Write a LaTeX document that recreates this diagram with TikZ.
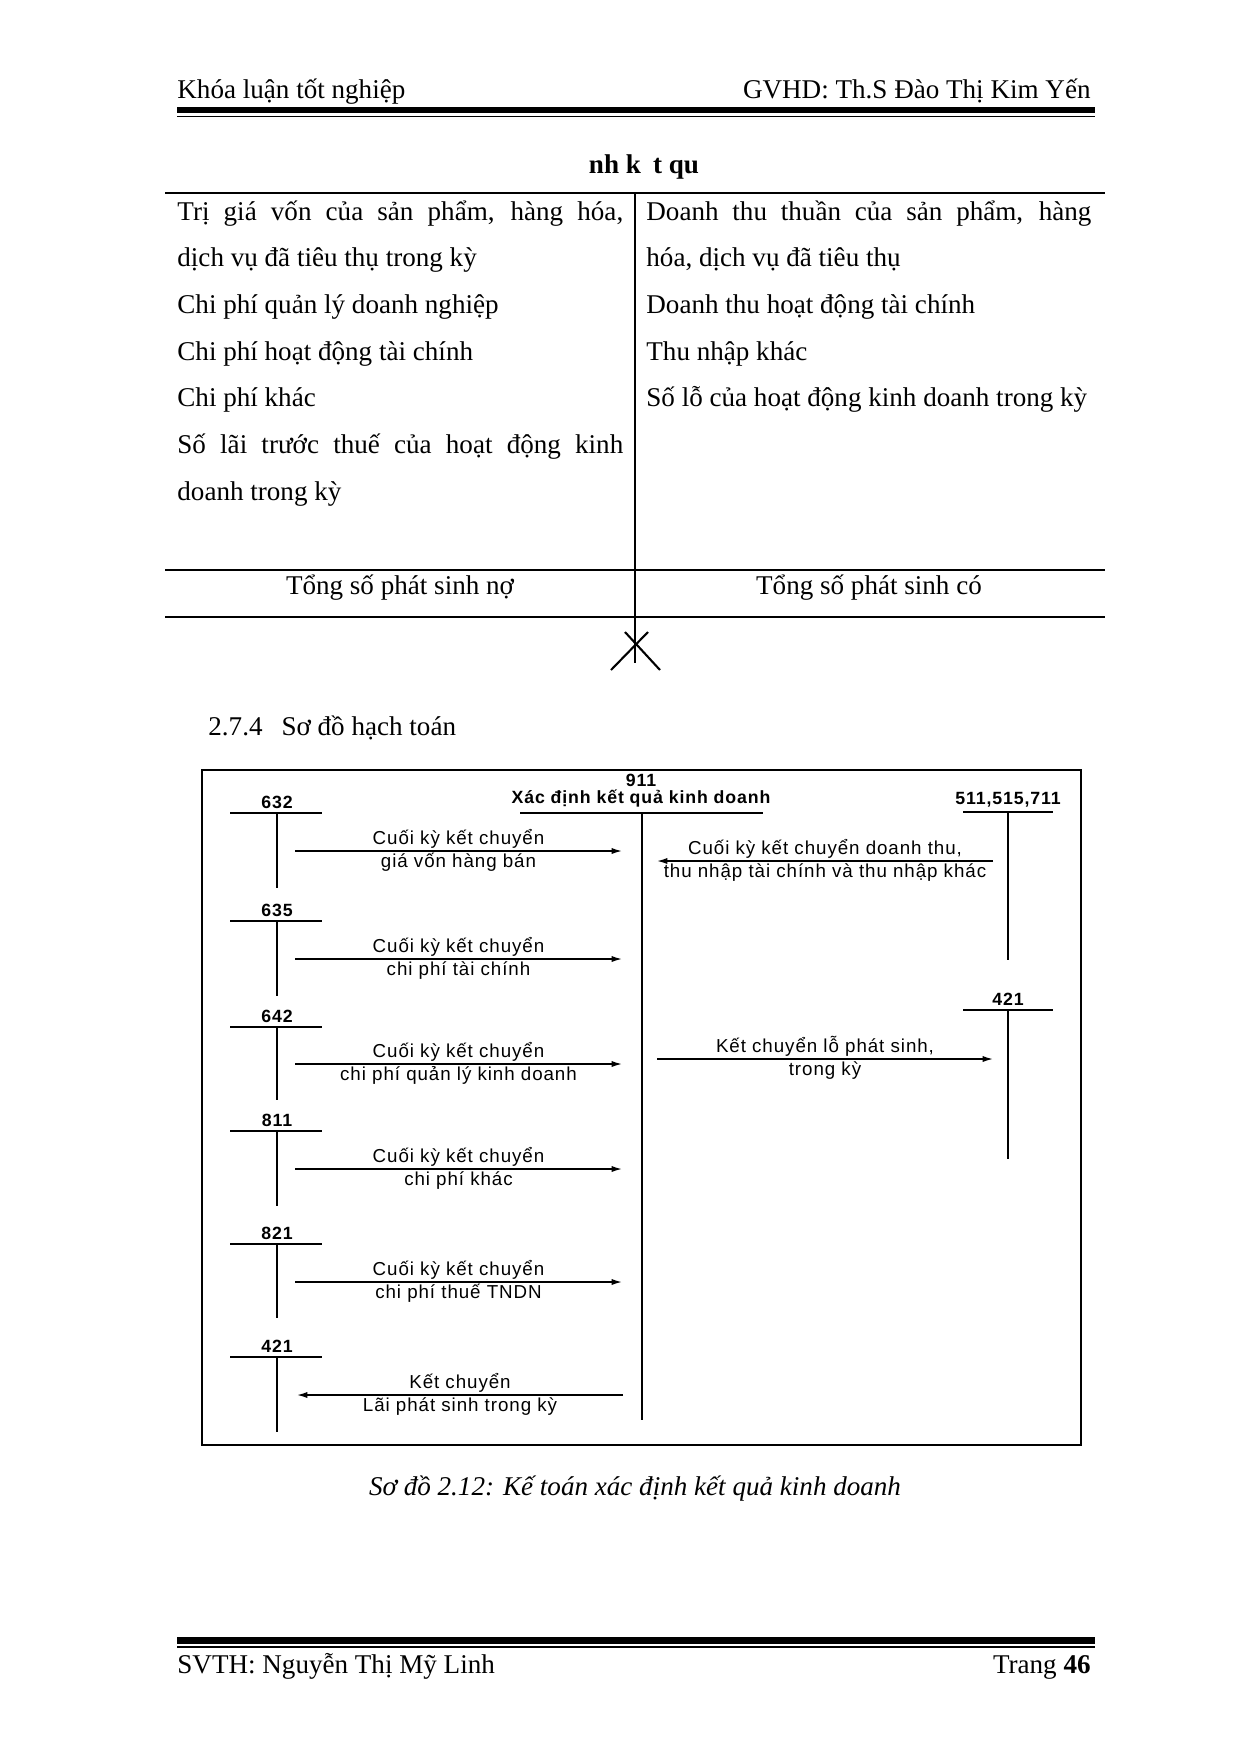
\documentclass[tikz,border=0pt]{standalone}
\usepackage{fontspec}
\setmainfont{Liberation Serif}
\newfontfamily\scanfont[LetterSpace=5]{Liberation Sans}
\usetikzlibrary{arrows.meta,positioning}

\begin{document}
\begin{tikzpicture}[x=0.48pt, y=-0.48pt,
    body/.style = {font=\fontsize{13}{15}\selectfont, inner sep=0pt},
    acct/.style = {font=\scanfont\bfseries\fontsize{8.5}{9}\selectfont, inner sep=0pt},
    note/.style = {font=\scanfont\fontsize{9}{10}\selectfont, inner sep=0.8pt},
    tline/.style = {line width=0.9pt},
    flow/.style = {-{Latex[length=5pt,width=3pt]}, line width=0.7pt}]
    \fill[white] (0,0) rectangle (1240,1754);
    \useasboundingbox (0,0) rectangle (1240,1754);

    % header and footer
    \node[body, anchor=base west] (hleft) at (177,98) {Khóa luận tốt nghiệp};
    \node[body, anchor=base east] (hright) at (1091,98) {GVHD: Th.S Đào Thị Kim Yến};
    \draw[line width=2.9pt] (177,110) -- (1095,110);
    \draw[line width=0.8pt] (177,116.5) -- (1095,116.5);
    \draw[line width=3.4pt] (177,1640.5) -- (1095,1640.5);
    \draw[line width=0.8pt] (177,1647) -- (1095,1647);
    \node[body, anchor=base west] (fleft) at (177,1673) {SVTH: Nguyễn Thị Mỹ Linh};
    \node[body, anchor=base east] (fright) at (1091,1673) {Trang \textbf{46}};

    % tai khoan chu T
    \node[body, anchor=base, font=\bfseries\fontsize{13}{15}\selectfont] (title) at (644,173) {nh k\hspace{0.45em}t qu};
    \draw[line width=1pt] (165,193) -- (1105,193);
    \draw[line width=1pt] (165,570) -- (1105,570);
    \draw[line width=1pt] (165,617) -- (1105,617);
    \draw[line width=1pt] (635,193) -- (635,663);
    \draw[line width=1pt] (625,632) -- (660,670);
    \draw[line width=1pt] (648,632) -- (611,670);

    \node[body, anchor=base west] (no1) at (177,220) {\makebox[214pt][s]{Trị giá vốn của sản phẩm, hàng hóa,}};
    \node[body, anchor=base west] (no2) at (177,266.7) {dịch vụ đã tiêu thụ trong kỳ};
    \node[body, anchor=base west] (no3) at (177,313.4) {Chi phí quản lý doanh nghiệp};
    \node[body, anchor=base west] (no4) at (177,360) {Chi phí hoạt động tài chính};
    \node[body, anchor=base west] (no5) at (177,406.8) {Chi phí khác};
    \node[body, anchor=base west] (no6) at (177,453.5) {\makebox[214pt][s]{Số lãi trước thuế của hoạt động kinh}};
    \node[body, anchor=base west] (no7) at (177,500) {doanh trong kỳ};

    \node[body, anchor=base west] (co1) at (646,220) {\makebox[213.6pt][s]{Doanh thu thuần của sản phẩm, hàng}};
    \node[body, anchor=base west] (co2) at (646,266.7) {hóa, dịch vụ đã tiêu thụ};
    \node[body, anchor=base west] (co3) at (646,313.4) {Doanh thu hoạt động tài chính};
    \node[body, anchor=base west] (co4) at (646,360) {Thu nhập khác};
    \node[body, anchor=base west] (co5) at (646,406.8) {Số lỗ của hoạt động kinh doanh trong kỳ};

    \node[body, anchor=base] (sumno) at (400,594) {Tổng số phát sinh nợ};
    \node[body, anchor=base] (sumco) at (869,594) {Tổng số phát sinh có};

    \node[body, anchor=base west] (sec) at (208,735) {2.7.4\hspace{0.7em}Sơ đồ hạch toán};

    % so do hach toan
    \draw[line width=1.4pt] (202,770) rectangle (1081,1445);

    \node[acct, anchor=south] (t911) at (641,808) {Xác định kết quả kinh doanh};
    \node[acct, above=1.2pt of t911] (n911) {911};
    \draw[tline] (520,813) -- (763,813);
    \draw[line width=1.3pt] (642,813) -- (642,1420);

    \node[acct, above=2pt] (n632) at (277,813) {632};
    \draw[tline] (230,813) -- (322,813) (277,813) -- (277,888);
    \node[acct, above=2pt] (n635) at (277,921) {635};
    \draw[tline] (230,921) -- (322,921) (277,921) -- (277,996);
    \node[acct, above=2pt] (n642) at (277,1027) {642};
    \draw[tline] (230,1027) -- (322,1027) (277,1027) -- (277,1100);
    \node[acct, above=2pt] (n811) at (277,1131) {811};
    \draw[tline] (230,1131) -- (322,1131) (277,1131) -- (277,1206);
    \node[acct, above=2pt] (n821) at (277,1244) {821};
    \draw[tline] (230,1244) -- (322,1244) (277,1244) -- (277,1318);
    \node[acct, above=2pt] (n421a) at (277,1357) {421};
    \draw[tline] (230,1357) -- (322,1357) (277,1357) -- (277,1432);

    \node[acct, above=2pt] (n511) at (1008,812) {511,515,711};
    \draw[tline] (963,812) -- (1053,812) (1008,812) -- (1008,960);
    \node[acct, above=2pt] (n421b) at (1008,1010) {421};
    \draw[tline] (963,1010) -- (1053,1010) (1008,1010) -- (1008,1159);

    \coordinate (s632) at (295,851);  \coordinate (e632) at (622,851);
    \coordinate (s635) at (295,959);  \coordinate (e635) at (622,959);
    \coordinate (s642) at (295,1064); \coordinate (e642) at (622,1064);
    \coordinate (s811) at (295,1169); \coordinate (e811) at (622,1169);
    \coordinate (s821) at (295,1282); \coordinate (e821) at (622,1282);
    \coordinate (s421a) at (623,1395); \coordinate (e421a) at (297,1395);
    \coordinate (s511) at (993,861);  \coordinate (e511) at (657,861);
    \coordinate (s421b) at (657,1059); \coordinate (e421b) at (993,1059);

    \draw[flow] (s632) -- node[note,above] {Cuối kỳ kết chuyển} node[note,below] {giá vốn hàng bán} (e632);
    \draw[flow] (s635) -- node[note,above] {Cuối kỳ kết chuyển} node[note,below] {chi phí tài chính} (e635);
    \draw[flow] (s642) -- node[note,above] {Cuối kỳ kết chuyển} node[note,below] {chi phí quản lý kinh doanh} (e642);
    \draw[flow] (s811) -- node[note,above] {Cuối kỳ kết chuyển} node[note,below] {chi phí khác} (e811);
    \draw[flow] (s821) -- node[note,above] {Cuối kỳ kết chuyển} node[note,below] {chi phí thuế TNDN} (e821);
    \draw[flow] (s421a) -- node[note,above] {Kết chuyển} node[note,below] {Lãi phát sinh trong kỳ} (e421a);
    \draw[flow] (s511) -- node[note,above] {Cuối kỳ kết chuyển doanh thu,} node[note,below] {thu nhập tài chính và thu nhập khác} (e511);
    \draw[flow] (s421b) -- node[note,above] {Kết chuyển lỗ phát sinh,} node[note,below] {trong kỳ} (e421b);

    \node[body, anchor=base, font=\itshape\fontsize{13}{15}\selectfont] (caption) at (635,1495) {Sơ đồ 2.12: Kế toán xác định kết quả kinh doanh};
\end{tikzpicture}
\end{document}
